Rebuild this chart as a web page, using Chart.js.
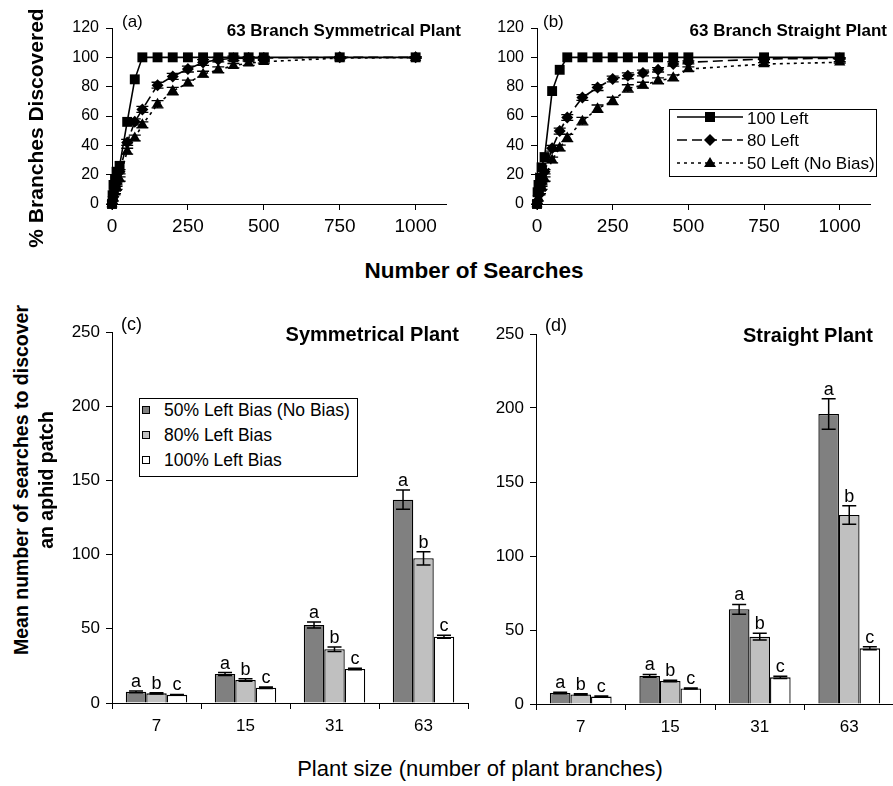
<!DOCTYPE html>
<html><head><meta charset="utf-8">
<script src="https://cdn.jsdelivr.net/npm/chart.js@4.4.1/dist/chart.umd.min.js"></script>
<style>
html,body{margin:0;padding:0;background:#fff;overflow:hidden;width:893px;height:786px;}
body{position:relative;font-family:"Liberation Sans",Arial,Helvetica,sans-serif;color:#000;}
canvas{position:absolute;}
.t{position:absolute;white-space:nowrap;line-height:1;}
.c{transform:translate(-50%,-50%);}
.r{transform:translate(-100%,-50%);}
.l{transform:translate(0,-50%);}
.rot{transform:translate(-50%,-50%) rotate(-90deg);}
.b{font-weight:bold;}
.box{position:absolute;border:1px solid #000;box-sizing:border-box;background:#fff;}
.sw{position:absolute;width:8px;height:8px;border:1px solid #000;box-sizing:border-box;}
</style></head><body>

<canvas id="cA" width="440" height="250" style="left:40px;top:0px"></canvas>
<canvas id="cB" width="413" height="250" style="left:480px;top:0px"></canvas>
<canvas id="cC" width="440" height="460" style="left:40px;top:290px"></canvas>
<canvas id="cD" width="420" height="460" style="left:480px;top:290px"></canvas>

<!-- panel texts -->
<div class="t l" style="left:122px;top:21px;font-size:17px">(a)</div>
<div class="t r b" style="left:461px;top:30px;font-size:17px">63 Branch Symmetrical Plant</div>
<div class="t l" style="left:543px;top:21px;font-size:17px">(b)</div>
<div class="t r b" style="left:887px;top:30px;font-size:17px">63 Branch Straight Plant</div>
<div class="t l" style="left:121px;top:324px;font-size:18px">(c)</div>
<div class="t r b" style="left:459px;top:334px;font-size:20px">Symmetrical Plant</div>
<div class="t l" style="left:545px;top:325px;font-size:18px">(d)</div>
<div class="t r b" style="left:873px;top:335px;font-size:20px">Straight Plant</div>

<!-- axis titles -->
<div class="t rot b" style="left:35px;top:128px;font-size:21px">% Branches Discovered</div>
<div class="t c b" style="left:474px;top:271px;font-size:22.5px">Number of Searches</div>
<div class="t rot b" style="left:22px;top:480px;font-size:19.5px">Mean number of searches to discover</div>
<div class="t rot b" style="left:47px;top:480px;font-size:19.5px">an aphid patch</div>
<div class="t c" style="left:480px;top:769px;font-size:22px">Plant size (number of plant branches)</div>

<!-- legend panel b -->
<div class="box" style="left:669px;top:109px;width:208px;height:68px"></div>
<svg style="position:absolute;left:669px;top:109px" width="80" height="68">
  <line x1="8" y1="8" x2="74" y2="8" stroke="#000" stroke-width="1.5"/>
  <rect x="36" y="3" width="10" height="10" fill="#000"/>
  <line x1="8" y1="31" x2="74" y2="31" stroke="#000" stroke-width="1.5" stroke-dasharray="10,5"/>
  <polygon points="41,25 47,31 41,37 35,31" fill="#000"/>
  <line x1="8" y1="54" x2="74" y2="54" stroke="#000" stroke-width="1.5" stroke-dasharray="3,4"/>
  <polygon points="41,48 47,58 35,58" fill="#000"/>
</svg>
<div class="t l" style="left:747px;top:118px;font-size:17px">100 Left</div>
<div class="t l" style="left:747px;top:140px;font-size:17px">80 Left</div>
<div class="t l" style="left:747px;top:163px;font-size:17px">50 Left (No Bias)</div>

<!-- legend panel c -->
<div class="box" style="left:139px;top:398px;width:219px;height:79px"></div>
<div class="sw" style="left:142px;top:406px;background:#808080"></div>
<div class="sw" style="left:142px;top:431px;background:#C0C0C0"></div>
<div class="sw" style="left:142px;top:456px;background:#FFFFFF"></div>
<div class="t l" style="left:164px;top:411px;font-size:17.5px">50% Left Bias (No Bias)</div>
<div class="t l" style="left:164px;top:436px;font-size:17.5px">80% Left Bias</div>
<div class="t l" style="left:164px;top:461px;font-size:17.5px">100% Left Bias</div>

<script>
// ---------- data ----------
const searches = [0, 2, 5, 10, 15, 25, 50, 75, 100, 150, 200, 250, 300, 350, 400, 450, 500, 750, 1000];
const searchTicks = [0, 250, 500, 750, 1000];

// (a) 63 branch symmetrical plant, % branches discovered
const symLeft100 = [0, 6, 13, 17, 22, 26, 56, 85, 100, 100, 100, 100, 100, 100, 100, 100, 100, 100, 100];
const symLeft80  = [0, 2, 5, 10, 14, 22, 42, 56, 64.5, 81, 87, 92, 96.5, 98.4, 99.3, 99.5, 99.6, 100, 100];
const symLeft50  = [0, 2, 4, 8, 11, 17, 36, 45, 54, 68, 77, 82.5, 88.5, 91.5, 94.3, 96, 97, 99.5, 99.8];
const symErr80   = [0, 0, 0, 1, 1, 1.5, 2, 2, 2, 2, 2, 2, 2, 1.5, 1.5, 1, 1, 0.5, 0.5];
const symErr50   = [0, 0, 0, 1, 1, 1.5, 2, 2, 2, 2.5, 2.5, 2, 2, 2, 1.5, 1.5, 1, 0.5, 0.5];

// (b) 63 branch straight plant
const strLeft100 = [0, 8, 13, 18, 25, 32, 77, 91.5, 100, 100, 100, 100, 100, 100, 100, 100, 100, 100, 100];
const strLeft80  = [0, 2, 6, 10, 14, 22, 38, 49.7, 59, 72.6, 79.4, 85.2, 87.4, 89.3, 91.5, 95.5, 96.6, 98.9, 99.3];
const strLeft50  = [0, 2, 4, 8, 11, 17, 30, 38.2, 45, 56.5, 65, 70.3, 78.8, 81, 84, 86, 92, 95.4, 96.6];
const strErr80   = [0, 0, 0, 1, 1, 1.5, 2, 2, 2, 2, 2, 2, 2, 2, 1.5, 1.5, 1, 0.5, 0.5];
const strErr50   = [0, 0, 0, 1, 1, 1.5, 2, 2, 2.5, 2.5, 2.5, 2.5, 2.5, 2, 2, 2, 1.5, 1, 0.5];

// (c)/(d) mean searches to discover an aphid patch
const plantSizes = ['7', '15', '31', '63'];
const sigLetters = ['a', 'b', 'c'];
const symBias50  = [7.5, 19.5, 52.5, 137];
const symBias50Err = [0.6, 1, 2, 6.5];
const symBias80  = [6.5, 15.5, 36.2, 97.5];
const symBias80Err = [0.4, 0.8, 1.5, 4.5];
const symBias100 = [5.5, 10.3, 22.9, 44.7];
const symBias100Err = [0.3, 0.5, 0.5, 1];
const strBias50  = [7.5, 19, 64, 196];
const strBias50Err = [0.5, 1, 3.3, 10.3];
const strBias80  = [6.5, 15.5, 45.5, 127.7];
const strBias80Err = [0.4, 0.5, 2.3, 6.3];
const strBias100 = [5, 10.5, 18, 37.6];
const strBias100Err = [0.4, 0.3, 0.8, 1];

// ---------- helpers ----------
const FONT = '"Liberation Sans", Arial, Helvetica, sans-serif';
Chart.defaults.font.family = FONT;
Chart.defaults.color = '#000';

const errPlugin = {
  id: 'errs',
  afterDatasetsDraw(chart) {
    const ctx = chart.ctx, ys = chart.scales.y;
    chart.data.datasets.forEach((ds, i) => {
      if (!ds.errors) return;
      const meta = chart.getDatasetMeta(i);
      ctx.save();
      ctx.strokeStyle = '#000';
      ctx.fillStyle = '#000';
      ctx.lineWidth = ds.errLineWidth || 1.3;
      meta.data.forEach((el, j) => {
        const raw = ds.data[j];
        const v = (raw && typeof raw === 'object') ? raw.y : raw;
        const e = ds.errors[j] || 0;
        const x = el.x;
        const t = ys.getPixelForValue(v + e), b = ys.getPixelForValue(v - e);
        const cw = ds.capHalf || 6;
        if (e > 0) {
          ctx.beginPath();
          ctx.moveTo(x, t); ctx.lineTo(x, b);
          ctx.moveTo(x - cw, t); ctx.lineTo(x + cw, t);
          ctx.moveTo(x - cw, b); ctx.lineTo(x + cw, b);
          ctx.stroke();
        }
        if (ds.letter) {
          ctx.font = '18px ' + FONT;
          ctx.textAlign = 'center';
          ctx.textBaseline = 'alphabetic';
          ctx.fillText(ds.letter, x, Math.min(t, el.y) - 4);
        }
      });
      ctx.restore();
    });
  }
};

function axisGrid(extra) {
  return Object.assign({ display: true, drawOnChartArea: false, drawTicks: true, tickLength: 6, color: '#000', lineWidth: 1 }, extra || {});
}

function pts(ys) { return searches.map((x, i) => ({ x: x, y: ys[i] })); }

function lineChart(id, s100, s80, s50, e80, e50, yW, padR) {
  new Chart(document.getElementById(id), {
    type: 'line',
    data: {
      datasets: [
        { label: '50 Left (No Bias)', data: pts(s50), errors: e50, capHalf: 6, borderColor: '#000', backgroundColor: '#000',
          borderWidth: 1.6, borderDash: [3, 4], pointStyle: 'triangle', pointRadius: 6.5, pointBorderWidth: 0, tension: 0 },
        { label: '80 Left', data: pts(s80), errors: e80, capHalf: 6, borderColor: '#000', backgroundColor: '#000',
          borderWidth: 1.6, borderDash: [10, 5], pointStyle: 'rectRot', pointRadius: 6, pointBorderWidth: 0, tension: 0 },
        { label: '100 Left', data: pts(s100), borderColor: '#000', backgroundColor: '#000',
          borderWidth: 1.6, pointStyle: 'rect', pointRadius: 7, pointBorderWidth: 0, tension: 0 }
      ]
    },
    options: {
      responsive: false, animation: false, clip: false,
      layout: { padding: { top: 28, right: padR, left: 0, bottom: 0 } },
      plugins: { legend: { display: false }, tooltip: { enabled: false }, title: { display: false } },
      scales: {
        x: {
          type: 'linear', min: 0, max: 1100,
          afterBuildTicks: s => { s.ticks = searchTicks.map(v => ({ value: v })); },
          afterFit: s => { s.height = 46; },
          ticks: { font: { size: 19 }, color: '#000', padding: 5, maxRotation: 0, callback: v => String(v) },
          grid: axisGrid(), border: { display: true, color: '#000', width: 1 }
        },
        y: {
          min: 0, max: 120,
          afterFit: s => { s.width = yW; },
          ticks: { stepSize: 20, font: { size: 16 }, color: '#000', padding: 7, callback: v => String(v) },
          grid: axisGrid(), border: { display: true, color: '#000', width: 1 }
        }
      }
    },
    plugins: [errPlugin]
  });
}

function barChart(id, v50, e50, v80, e80, v100, e100, yW, padT, padR, xH) {
  const common = { borderColor: '#000', borderWidth: 1.3, categoryPercentage: 0.69, barPercentage: 1.0, capHalf: 7, errLineWidth: 1.5 };
  new Chart(document.getElementById(id), {
    type: 'bar',
    data: {
      labels: plantSizes,
      datasets: [
        Object.assign({ label: '50% Left Bias (No Bias)', data: v50, errors: e50, letter: sigLetters[0], backgroundColor: '#808080' }, common),
        Object.assign({ label: '80% Left Bias', data: v80, errors: e80, letter: sigLetters[1], backgroundColor: '#C0C0C0' }, common),
        Object.assign({ label: '100% Left Bias', data: v100, errors: e100, letter: sigLetters[2], backgroundColor: '#FFFFFF' }, common)
      ]
    },
    options: {
      responsive: false, animation: false,
      layout: { padding: { top: padT, right: padR, left: 0, bottom: 0 } },
      plugins: { legend: { display: false }, tooltip: { enabled: false }, title: { display: false } },
      scales: {
        x: {
          afterFit: s => { s.height = xH; },
          ticks: { font: { size: 17 }, color: '#000', padding: 7 },
          grid: axisGrid({ offset: true }), border: { display: true, color: '#000', width: 1 }
        },
        y: {
          min: 0, max: 250,
          afterFit: s => { s.width = yW; },
          ticks: { stepSize: 50, font: { size: 17 }, color: '#000', padding: 6, callback: v => String(v) },
          grid: axisGrid(), border: { display: true, color: '#000', width: 1 }
        }
      }
    },
    plugins: [errPlugin]
  });
}

lineChart('cA', symLeft100, symLeft80, symLeft50, symErr80, symErr50, 72, 34);
lineChart('cB', strLeft100, strLeft80, strLeft50, strErr80, strErr50, 57, 23);
barChart('cC', symBias50, symBias50Err, symBias80, symBias80Err, symBias100, symBias100Err, 72, 42, 12, 47);
barChart('cD', strBias50, strBias50Err, strBias80, strBias80Err, strBias100, strBias100Err, 56, 44, 6, 46);
</script>
</body></html>
